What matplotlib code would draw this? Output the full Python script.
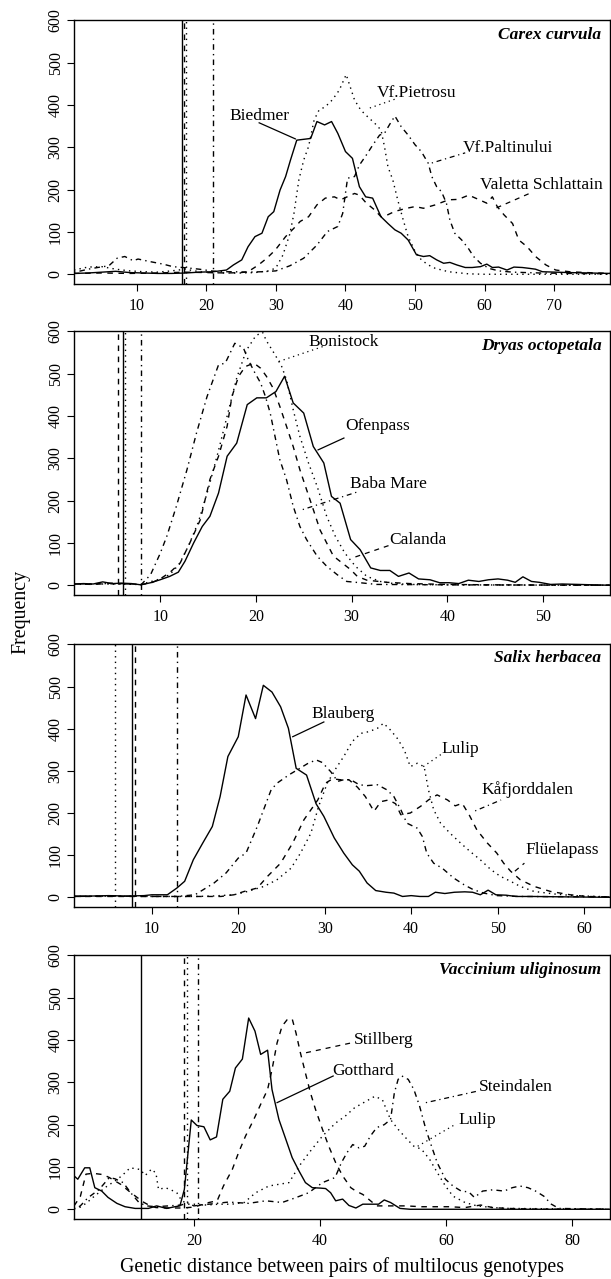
import matplotlib
matplotlib.use("Agg")
import matplotlib.pyplot as plt

plt.rcParams["font.family"] = ["Liberation Serif", "DejaVu Serif"]

# ---------- data ----------
# Carex curvula
carex_biedmer_x = [1, 3, 5, 7, 9, 11, 13, 15, 17, 19, 21, 22.9, 23.9, 25.1, 26, 27, 28, 28.9, 29.7, 30.6, 31.4, 32.1, 33, 35, 35.9, 37, 38, 38.9, 40, 41, 42, 42.9, 43.9, 45.1, 46.1, 47.1, 48, 49, 50.2, 51.2, 52.1, 53.1, 54.1, 55, 56, 57.2, 58.2, 59.4, 60.3, 61.1, 62, 63.2, 64.2, 65.4, 66.4, 67.3, 68.3, 70.2, 72.2, 78]
carex_biedmer_y = [2, 3, 5, 7, 4, 3, 2, 2, 3, 5, 6, 10, 22, 34, 65, 89, 97, 136, 148, 199, 231, 270, 317, 321, 361, 353, 361, 333, 290, 274, 207, 183, 180, 136, 120, 105, 97, 81, 46, 42, 44, 34, 26, 28, 22, 16, 16, 18, 24, 16, 17, 10, 17, 16, 14, 12, 6, 5, 4, 2]
carex_pietrosu_x = [1, 3, 5, 7, 9, 11, 13, 15, 17, 19, 21, 23, 25, 27, 29, 30, 31, 32, 32.6, 33.3, 34, 34.7, 35.5, 36.2, 37.1, 38.1, 39.1, 40.1, 41.3, 42.2, 43.2, 44.2, 45.1, 45.6, 46.1, 46.8, 47.5, 48.3, 49, 50, 50.9, 51.9, 52.9, 54.8, 57.7, 60, 78]
carex_pietrosu_y = [10, 17, 18, 12, 8, 6, 5, 8, 12, 6, 4, 3, 3, 4, 8, 15, 45, 95, 144, 223, 270, 302, 365, 388, 396, 412, 435, 472, 412, 388, 372, 357, 341, 302, 254, 223, 176, 128, 89, 54, 34, 22, 14, 6, 1, 0, 0]
carex_paltinului_x = [1, 2, 3, 4.4, 6, 7.2, 8.3, 9.5, 10.2, 11.9, 13.8, 15.2, 17.3, 19, 20.7, 22, 24, 26, 28, 30, 32, 34, 35.9, 37.4, 38.9, 39.6, 40.3, 41.3, 42, 43, 43.9, 44.9, 45.6, 46.3, 47.1, 48, 49, 50, 50.9, 51.9, 52.4, 53.1, 53.8, 54.5, 55, 55.7, 56.7, 57.7, 58.4, 59.4, 60.6, 62, 64, 68, 72, 78]
carex_paltinului_y = [5, 8, 12, 16, 20, 38, 42, 32, 36, 30, 24, 18, 15, 12, 8, 6, 6, 5, 6, 8, 20, 38, 69, 101, 113, 144, 227, 231, 258, 282, 305, 329, 333, 353, 374, 349, 329, 306, 290, 262, 231, 207, 195, 168, 128, 97, 81, 60, 42, 26, 14, 8, 5, 3, 2, 1]
carex_valetta_x = [1, 5, 9, 13, 17, 20, 23, 25, 26, 27.5, 28.7, 29.9, 31.4, 32.6, 33.5, 34.7, 35.9, 37.1, 38.4, 39.3, 40.5, 41.3, 42, 43, 44.2, 45.1, 46, 47, 48.5, 50, 51.2, 52.9, 54.8, 56.2, 57.7, 59.1, 60.3, 61.1, 61.8, 62.8, 64, 64.9, 66.1, 67.3, 68.8, 70.2, 72.2, 74.6, 78]
carex_valetta_y = [2, 3, 2, 3, 5, 4, 3, 4, 6, 22, 38, 57, 89, 109, 125, 136, 164, 180, 183, 176, 185, 191, 187, 168, 152, 136, 140, 148, 155, 160, 156, 164, 176, 177, 187, 177, 168, 183, 160, 140, 120, 81, 65, 42, 22, 10, 6, 4, 2]

# Dryas octopetala
dryas_ofenpass_x = [1, 2, 3, 4, 5, 6, 7, 8, 9, 10, 11, 11.9, 12.6, 13.5, 14.4, 15.2, 16.1, 17, 18, 19.1, 20.1, 21.1, 22.1, 23, 23.9, 25, 26, 27.1, 27.9, 28.8, 29.9, 30.9, 32, 33, 34, 34.9, 36, 37, 38.2, 39.2, 40.2, 41.2, 42.2, 43.3, 44.3, 45.3, 46.3, 47.1, 47.9, 48.8, 49.6, 50.8, 52, 53.7, 55.3, 57]
dryas_ofenpass_y = [3, 4, 3, 8, 4, 5, 4, 1, 6, 13, 21, 31, 57, 100, 139, 163, 218, 305, 336, 427, 443, 443, 458, 494, 431, 407, 328, 289, 210, 194, 108, 84, 41, 35, 35, 21, 29, 15, 13, 6, 6, 4, 12, 9, 13, 15, 12, 7, 20, 9, 7, 2, 3, 2, 1, 0]
dryas_bonistock_x = [1, 4, 8, 10, 11, 12, 13, 14, 15, 16, 17, 18, 19, 20, 20.7, 21.1, 22, 22.7, 23.2, 23.9, 24.6, 25.5, 26.4, 27.4, 28.3, 29.3, 30.4, 31.6, 33, 34.4, 36, 40, 57]
dryas_bonistock_y = [2, 3, 2, 15, 25, 50, 95, 150, 225, 310, 400, 490, 555, 590, 598, 578, 545, 517, 486, 415, 352, 289, 234, 163, 116, 76, 45, 21, 9, 4, 2, 1, 0]
dryas_calanda_x = [1, 3, 5, 7, 8, 9, 10, 11, 12.1, 13.1, 14.2, 15.2, 16.1, 17, 17.5, 18.2, 18.9, 19.8, 20.5, 21.1, 21.8, 22.5, 23.2, 23.9, 24.6, 25.3, 26, 26.7, 27.4, 28.1, 29, 29.9, 30.6, 31.6, 33.7, 36.1, 40, 45, 57]
dryas_calanda_y = [3, 2, 5, 3, 2, 5, 15, 30, 53, 100, 155, 250, 305, 376, 446, 494, 517, 525, 513, 494, 466, 423, 376, 328, 273, 226, 179, 131, 100, 69, 53, 37, 21, 12, 7, 4, 2, 1, 0]
dryas_babamare_x = [1, 4, 7, 8, 9, 10, 10.7, 11.7, 12.8, 13.8, 14.9, 16.1, 16.8, 17.8, 18.7, 19.2, 19.9, 20.5, 21, 21.5, 22, 22.5, 23.2, 23.9, 24.6, 25.3, 26.4, 27.4, 28.5, 29.5, 30.9, 32.6, 40, 57]
dryas_babamare_y = [3, 4, 3, 1, 25, 75, 116, 187, 273, 360, 446, 521, 525, 572, 561, 533, 502, 478, 446, 407, 352, 297, 250, 187, 139, 108, 69, 45, 25, 9, 6, 2, 1, 0]

# Salix herbacea
salix_blauberg_x = [1, 3, 5, 7, 9.1, 10, 11.8, 12.9, 13.8, 14.8, 15.9, 17, 17.9, 18.8, 20, 20.9, 22, 22.9, 23.9, 24.9, 25.8, 26.7, 27.9, 29, 29.9, 31.1, 32.2, 33.2, 34, 34.9, 35.9, 37.1, 38, 39, 40, 41, 42, 42.8, 43.9, 45, 46.2, 47.1, 48, 48.9, 49.8, 51, 52.1, 54, 58, 63]
salix_blauberg_y = [3, 3, 4, 3, 4, 6, 6, 22, 38, 89, 129, 168, 239, 334, 381, 480, 424, 503, 487, 452, 401, 306, 290, 222, 192, 141, 105, 77, 62, 34, 16, 12, 10, 2, 4, 2, 2, 12, 9, 12, 13, 12, 6, 17, 6, 5, 2, 2, 1, 0]
salix_lulip_x = [1, 5, 10, 15, 17, 19.5, 21.1, 23, 24.5, 26.1, 27.2, 28.4, 29.3, 30.3, 31.3, 32.2, 33.2, 34.2, 35.1, 36.1, 36.8, 37.6, 38.4, 39.2, 39.9, 40.7, 41.5, 42, 42.6, 43.4, 44.5, 45.7, 46.8, 48, 49.2, 50.3, 51.5, 52.6, 54.2, 56.5, 58.8, 63]
salix_lulip_y = [2, 3, 2, 2, 3, 6, 14, 26, 42, 69, 105, 152, 216, 271, 306, 334, 370, 389, 393, 401, 413, 397, 377, 350, 310, 318, 310, 255, 208, 176, 152, 129, 109, 89, 66, 50, 38, 26, 14, 8, 4, 1]
salix_kafjord_x = [1, 5, 10, 12.9, 15, 17.2, 18.6, 20, 20.9, 22.2, 23.8, 24.5, 25.9, 26.8, 28, 29, 29.7, 30.7, 31.5, 32.2, 33, 34, 34.9, 36.1, 37.2, 38, 38.8, 39.5, 40.7, 41.3, 41.8, 42.6, 43.6, 44.9, 46.1, 47.2, 48.4, 49.9, 52.6, 63]
salix_kafjord_y = [2, 3, 2, 2, 6, 34, 58, 93, 105, 168, 255, 271, 291, 302, 317, 326, 320, 298, 275, 279, 279, 267, 265, 267, 255, 239, 208, 176, 164, 144, 105, 81, 69, 46, 30, 18, 10, 4, 2, 1]
salix_fluela_x = [1, 5, 10, 15, 18, 19.5, 20.7, 22.2, 23.4, 24.9, 26.3, 27.6, 29.2, 30.1, 30.9, 31.8, 32.8, 33.8, 34.7, 35.7, 36.5, 37.4, 38.2, 38.8, 39.9, 41.1, 42, 43, 44.2, 45.1, 45.9, 46.7, 47.6, 48.8, 49.9, 50.7, 51.5, 52.6, 54.2, 56.1, 58.4, 60.3, 63]
salix_fluela_y = [2, 2, 2, 2, 2, 6, 14, 22, 50, 81, 129, 184, 231, 271, 281, 279, 279, 261, 239, 204, 227, 231, 222, 196, 200, 216, 231, 243, 231, 217, 223, 196, 160, 129, 105, 81, 62, 42, 26, 14, 6, 2, 1]

# Vaccinium uliginosum
vacc_gotthard_x = [1, 1.6, 2.7, 3.5, 4.3, 5.4, 6.4, 7.8, 9.1, 10.7, 12.8, 14.1, 15.7, 17, 17.8, 18.5, 19.6, 20.5, 21.6, 22.6, 23.6, 24.6, 25.7, 26.6, 27.7, 28.7, 29.7, 30.6, 31.7, 32.4, 33.5, 34.6, 35.6, 36.7, 37.7, 38.8, 40.1, 40.9, 41.7, 42.5, 43.6, 44.6, 45.7, 46.8, 47.8, 49.3, 50.2, 51.2, 52.7, 54.3, 86]
vacc_gotthard_y = [79, 71, 98, 98, 51, 43, 28, 14, 6, 2, 2, 8, 2, 6, 8, 47, 211, 198, 195, 164, 171, 260, 279, 334, 355, 452, 421, 366, 376, 283, 212, 165, 122, 90, 63, 51, 50, 49, 39, 20, 24, 9, 3, 12, 12, 12, 22, 16, 2, 0, 0]
vacc_stillberg_x = [1, 2, 2.9, 4, 5.6, 6.6, 8.4, 9.7, 11, 12, 13.1, 14, 16, 18, 20, 22.4, 23.7, 24.7, 26.1, 27.1, 28.2, 29.5, 30.6, 31.7, 32.4, 33.2, 34, 34.8, 35.6, 36.2, 36.9, 37.7, 38.5, 39.3, 40.4, 41.4, 42.5, 43.6, 44.9, 45.7, 46.8, 47.7, 49, 51.2, 53.6, 56.1, 58.6, 60.5, 63, 65.5, 67.4, 69.8, 75, 86]
vacc_stillberg_y = [8, 30, 83, 85, 82, 75, 59, 43, 28, 17, 8, 4, 3, 3, 5, 16, 20, 55, 94, 134, 173, 212, 248, 283, 330, 393, 433, 448, 450, 417, 370, 322, 275, 236, 189, 149, 110, 79, 51, 43, 35, 24, 8, 8, 8, 6, 6, 6, 4, 10, 4, 2, 0, 0]
vacc_lulip_x = [1, 2, 3, 4, 5, 6, 7, 8, 9, 9.9, 11.5, 12.3, 13.3, 14, 14.4, 15.5, 16.5, 17.3, 18.1, 19.2, 20, 22, 24, 26, 28, 29.8, 31.9, 35.1, 36.7, 38.3, 40.4, 42.5, 44, 45.5, 47.4, 48.7, 49.9, 51.2, 52.4, 53.6, 54.9, 56.1, 57.4, 58.6, 59.9, 61.1, 63, 64.9, 67.4, 70, 86]
vacc_lulip_y = [2, 5, 15, 28, 40, 52, 62, 72, 85, 98, 94, 80, 95, 85, 47, 51, 45, 39, 20, 12, 12, 10, 12, 12, 16, 39, 55, 63, 102, 134, 173, 204, 220, 240, 256, 267, 259, 212, 189, 169, 149, 142, 118, 87, 55, 31, 16, 8, 4, 2, 0]
vacc_steindalen_x = [1, 2, 3.2, 5, 6.6, 7.5, 8.8, 10, 11.3, 12.5, 14, 16, 18, 19, 20, 22.4, 25.5, 28.7, 31.4, 34, 36.1, 38.2, 40.4, 42.4, 43.4, 44.3, 45.2, 46.2, 47.1, 48, 49, 50.2, 51.2, 51.8, 52.4, 53, 54, 54.9, 55.8, 56.8, 57.7, 58.6, 59.9, 61.1, 62.4, 63.6, 64.5, 65.8, 67.4, 69.2, 70.5, 71.7, 73, 74.2, 75.5, 76.7, 77.9, 86]
vacc_steindalen_y = [0, 8, 27, 47, 75, 72, 63, 39, 16, 8, 6, 8, 10, 15, 8, 12, 17, 14, 20, 16, 27, 39, 63, 75, 110, 134, 153, 145, 149, 173, 193, 200, 212, 275, 307, 315, 307, 283, 244, 189, 149, 110, 71, 55, 43, 41, 28, 43, 46, 43, 51, 55, 51, 43, 31, 12, 2, 0]

panel_titles = ["Carex curvula", "Dryas octopetala", "Salix herbacea", "Vaccinium uliginosum"]
panel_xlims = [(1, 78), (1, 57), (1, 63), (1, 86)]
panel_xticks = [[10, 20, 30, 40, 50, 60, 70], [10, 20, 30, 40, 50], [10, 20, 30, 40, 50, 60], [20, 40, 60, 80]]

# vertical reference lines (solid, dashed, dotted, dash-dot)
carex_vlines = [16.5, 16.8, 17.1, 20.9]
dryas_vlines = [6.1, 5.6, 6.3, 8.0]
salix_vlines = [7.7, 8.1, 5.8, 12.9]
vacc_vlines = [11.6, 18.5, 18.9, 20.7]

# site labels: (text, text x, text y, leader from x, y, leader to x, y, style)
carex_labels = [("Biedmer", 27.7, 373, 32.8, 320, 27.6, 358, "solid"),
                ("Vf.Pietrosu", 50.2, 428, 43.5, 393, 47.3, 415, "dotted"),
                ("Vf.Paltinului", 63.4, 299, 52.4, 263, 57.2, 287, "dashdot"),
                ("Valetta Schlattain", 68.1, 212, 61.7, 157, 66.7, 193, "dashed")]
dryas_labels = [("Bonistock", 29.2, 576, 22.4, 529, 27.1, 565, "dotted"),
                ("Ofenpass", 32.7, 377, 26.5, 320, 29.2, 348, "solid"),
                ("Baba Mare", 33.9, 239, 24.9, 179, 30.8, 222, "dashdot"),
                ("Calanda", 36.9, 108, 30.4, 67, 33.9, 94, "dashed")]
salix_labels = [("Blauberg", 32.1, 435, 26.3, 381, 29.9, 416, "solid"),
                ("Lulip", 45.7, 353, 41.4, 310, 43.6, 341, "dotted"),
                ("Kåfjorddalen", 53.4, 255, 47.4, 205, 50.4, 231, "dashdot"),
                ("Flüelapass", 57.5, 113, 52.0, 62, 53.1, 81, "dashed")]
vacc_labels = [("Stillberg", 50.2, 401, 37.8, 370, 44.9, 393, "dashed"),
               ("Gotthard", 46.8, 326, 33.2, 252, 42.1, 315, "solid"),
               ("Steindalen", 71.1, 289, 56.8, 252, 64.9, 279, "dashdot"),
               ("Lulip", 64.9, 212, 55.5, 149, 61.4, 200, "dotted")]

STYLES = {"solid": "-", "dashed": (0, (4, 4)), "dotted": (0, (1, 3)), "dashdot": (0, (1, 3, 4, 3))}

panels = [
    [(carex_biedmer_x, carex_biedmer_y, "solid"), (carex_pietrosu_x, carex_pietrosu_y, "dotted"),
     (carex_paltinului_x, carex_paltinului_y, "dashdot"), (carex_valetta_x, carex_valetta_y, "dashed")],
    [(dryas_ofenpass_x, dryas_ofenpass_y, "solid"), (dryas_bonistock_x, dryas_bonistock_y, "dotted"),
     (dryas_babamare_x, dryas_babamare_y, "dashdot"), (dryas_calanda_x, dryas_calanda_y, "dashed")],
    [(salix_blauberg_x, salix_blauberg_y, "solid"), (salix_lulip_x, salix_lulip_y, "dotted"),
     (salix_kafjord_x, salix_kafjord_y, "dashdot"), (salix_fluela_x, salix_fluela_y, "dashed")],
    [(vacc_gotthard_x, vacc_gotthard_y, "solid"), (vacc_lulip_x, vacc_lulip_y, "dotted"),
     (vacc_steindalen_x, vacc_steindalen_y, "dashdot"), (vacc_stillberg_x, vacc_stillberg_y, "dashed")],
]
vlines = [carex_vlines, dryas_vlines, salix_vlines, vacc_vlines]
labels = [carex_labels, dryas_labels, salix_labels, vacc_labels]

W, H = 611, 1279
fig = plt.figure(figsize=(W / 100, H / 100), dpi=100)

# panel frames in pixels (top, bottom)
frames = [(20, 284), (331, 595), (644, 907), (955, 1219)]
left_px, right_px = 74, 610

for i, (top, bot) in enumerate(frames):
    ax = fig.add_axes([left_px / W, 1 - bot / H, (right_px - left_px) / W, (bot - top) / H])
    for xs, ys, st in panels[i]:
        ax.plot(xs, ys, color="black", lw=1.0, linestyle=STYLES[st])
    for xv, st in zip(vlines[i], ["solid", "dashed", "dotted", "dashdot"]):
        ax.axvline(xv, color="black", lw=1.0, linestyle=STYLES[st])
    for txt, tx, ty, x0, y0, x1, y1, st in labels[i]:
        ax.plot([x0, x1], [y0, y1], color="black", lw=0.9, linestyle=STYLES[st])
        ax.text(tx, ty, txt, fontsize=12.5, ha="center", va="center")
    ax.text(0.984, 0.945, panel_titles[i], transform=ax.transAxes, fontsize=12.5,
            fontweight="bold", fontstyle="italic", ha="right", va="center")

    ax.set_xlim(*panel_xlims[i])
    ax.set_ylim(-23, 601)
    ax.set_xticks(panel_xticks[i])
    ax.set_yticks(range(0, 601, 100))
    ax.tick_params(direction="out", length=5, width=0.8, labelsize=11.5)
    ax.tick_params(axis="x", pad=5)
    ax.tick_params(axis="y", pad=2.5)
    for t in ax.get_yticklabels():
        t.set_rotation(90)
        t.set_va("center")
    for s in ax.spines.values():
        s.set_linewidth(1.0)

fig.text(21 / W, 1 - 612 / H, "Frequency", rotation=90, fontsize=14.3, ha="center", va="center")
fig.text(342 / W, 1 - 1267 / H, "Genetic distance between pairs of multilocus genotypes",
         fontsize=14.3, ha="center", va="center")

fig.savefig("out.png", dpi=100)
